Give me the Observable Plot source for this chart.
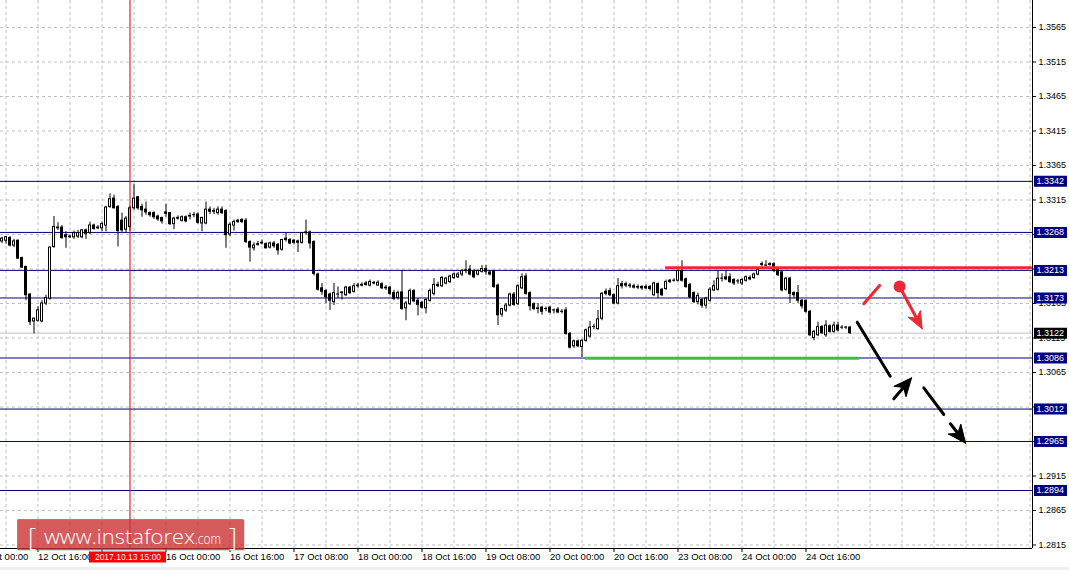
<!DOCTYPE html>
<html>
<head>
<meta charset="utf-8">
<script src="https://cdn.jsdelivr.net/npm/d3@7"></script>
<script src="https://cdn.jsdelivr.net/npm/@observablehq/plot@0.6"></script>
<style>
  html, body { margin: 0; padding: 0; background: #efefef; }
  svg { display: block; }
</style>
</head>
<body>
<script>
// ---------------- DATA ----------------
// hourly bars, bar index counted in trading hours from 12 Oct 00:00
const firstBar = 7;
const opens = [
  1.3255,1.3256,1.3260,1.3249,1.3256,1.3231,1.3218,1.3178,1.3139,1.3140,
  1.3139,1.3165,1.3172,1.3247,1.3275,1.3275,1.3264,1.3262,1.3261,1.3262,
  1.3261,1.3271,1.3267,1.3278,1.3274,1.3274,1.3278,1.3305,1.3317,1.3305,
  1.3285,1.3272,1.3276,1.3303,1.3319,1.3305,1.3301,1.3296,1.3296,1.3291,
  1.3289,1.3295,1.3296,1.3280,1.3289,1.3285,1.3290,1.3291,1.3293,1.3294,
  1.3281,1.3281,1.3298,1.3299,1.3296,1.3301,1.3299,1.3265,1.3278,1.3283,
  1.3283,1.3285,1.3254,1.3245,1.3250,1.3252,1.3251,1.3246,1.3252,1.3250,
  1.3243,1.3257,1.3257,1.3256,1.3255,1.3253,1.3267,1.3268,1.3254,1.3207,
  1.3187,1.3183,1.3178,1.3167,1.3178,1.3180,1.3177,1.3188,1.3182,1.3190,
  1.3191,1.3192,1.3191,1.3195,1.3191,1.3193,1.3188,1.3188,1.3180,1.3173,
  1.3181,1.3158,1.3164,1.3183,1.3169,1.3166,1.3158,1.3169,1.3179,1.3190,
  1.3190,1.3194,1.3196,1.3202,1.3203,1.3207,1.3212,1.3214,1.3211,1.3207,
  1.3211,1.3215,1.3207,1.3211,1.3191,1.3149,1.3155,1.3162,1.3178,1.3164,
  1.3187,1.3204,1.3180,1.3164,1.3158,1.3159,1.3157,1.3159,1.3155,1.3156,
  1.3153,1.3155,1.3121,1.3103,1.3110,1.3102,1.3111,1.3117,1.3131,1.3128,
  1.3143,1.3179,1.3183,1.3177,1.3165,1.3190,1.3193,1.3191,1.3190,1.3188,
  1.3189,1.3187,1.3189,1.3177,1.3193,1.3185,1.3186,1.3196,1.3198,1.3198,
  1.3212,1.3200,1.3192,1.3180,1.3167,1.3170,1.3162,1.3169,1.3184,1.3185,
  1.3201,1.3200,1.3203,1.3199,1.3197,1.3194,1.3198,1.3200,1.3202,1.3207,
  1.3221,1.3220,1.3222,1.3222,1.3213,1.3210,1.3185,1.3201,1.3180,1.3180,
  1.3169,1.3169,1.3153,1.3115,1.3119,1.3131,1.3119,1.3132,1.3124,1.3133,
  1.3130,1.3130,1.3130
];
const highs = [
  1.3261,1.3262,1.3262,1.3258,1.3257,1.3232,1.3219,1.3179,1.3144,1.3160,
  1.3169,1.3177,1.3247,1.3291,1.3282,1.3278,1.3269,1.3264,1.3270,1.3271,
  1.3272,1.3273,1.3283,1.3280,1.3278,1.3283,1.3306,1.3324,1.3322,1.3307,
  1.3296,1.3291,1.3306,1.3338,1.3320,1.3309,1.3312,1.3298,1.3298,1.3293,
  1.3290,1.3309,1.3297,1.3290,1.3292,1.3292,1.3292,1.3296,1.3297,1.3296,
  1.3290,1.3312,1.3305,1.3303,1.3305,1.3305,1.3301,1.3282,1.3286,1.3287,
  1.3288,1.3288,1.3256,1.3253,1.3255,1.3257,1.3253,1.3254,1.3255,1.3252,
  1.3258,1.3267,1.3259,1.3258,1.3257,1.3268,1.3286,1.3270,1.3256,1.3209,
  1.3194,1.3185,1.3180,1.3194,1.3189,1.3182,1.3190,1.3190,1.3194,1.3194,
  1.3195,1.3197,1.3199,1.3197,1.3198,1.3195,1.3191,1.3190,1.3184,1.3183,
  1.3213,1.3168,1.3186,1.3185,1.3172,1.3168,1.3172,1.3186,1.3201,1.3196,
  1.3204,1.3203,1.3206,1.3209,1.3210,1.3214,1.3227,1.3220,1.3214,1.3214,
  1.3220,1.3220,1.3213,1.3213,1.3193,1.3158,1.3165,1.3180,1.3181,1.3192,
  1.3208,1.3208,1.3182,1.3166,1.3165,1.3161,1.3160,1.3161,1.3157,1.3159,
  1.3156,1.3159,1.3123,1.3112,1.3112,1.3113,1.3128,1.3139,1.3135,1.3155,
  1.3181,1.3186,1.3187,1.3179,1.3201,1.3197,1.3196,1.3194,1.3193,1.3192,
  1.3191,1.3192,1.3191,1.3196,1.3195,1.3187,1.3199,1.3200,1.3201,1.3214,
  1.3227,1.3202,1.3194,1.3182,1.3180,1.3172,1.3174,1.3188,1.3198,1.3213,
  1.3208,1.3213,1.3208,1.3201,1.3200,1.3201,1.3205,1.3205,1.3209,1.3216,
  1.3225,1.3227,1.3224,1.3224,1.3215,1.3212,1.3203,1.3203,1.3182,1.3191,
  1.3171,1.3170,1.3155,1.3126,1.3138,1.3133,1.3140,1.3134,1.3138,1.3138,
  1.3133,1.3132,1.3132
];
const lows = [
  1.3252,1.3251,1.3247,1.3246,1.3229,1.3216,1.3169,1.3133,1.3121,1.3138,
  1.3137,1.3162,1.3170,1.3245,1.3271,1.3258,1.3245,1.3259,1.3258,1.3259,
  1.3259,1.3258,1.3265,1.3271,1.3272,1.3269,1.3269,1.3303,1.3302,1.3247,
  1.3268,1.3268,1.3270,1.3300,1.3300,1.3290,1.3293,1.3290,1.3287,1.3284,
  1.3280,1.3290,1.3278,1.3272,1.3286,1.3283,1.3282,1.3286,1.3289,1.3280,
  1.3269,1.3279,1.3294,1.3294,1.3293,1.3294,1.3245,1.3262,1.3270,1.3281,
  1.3281,1.3252,1.3225,1.3241,1.3248,1.3250,1.3244,1.3244,1.3245,1.3235,
  1.3241,1.3254,1.3250,1.3250,1.3239,1.3251,1.3264,1.3244,1.3205,1.3183,
  1.3177,1.3165,1.3155,1.3162,1.3172,1.3170,1.3175,1.3178,1.3180,1.3187,
  1.3189,1.3190,1.3189,1.3192,1.3190,1.3185,1.3184,1.3177,1.3169,1.3170,
  1.3155,1.3140,1.3162,1.3166,1.3147,1.3157,1.3150,1.3167,1.3176,1.3188,
  1.3188,1.3192,1.3194,1.3200,1.3201,1.3204,1.3208,1.3205,1.3201,1.3205,
  1.3209,1.3206,1.3205,1.3187,1.3133,1.3145,1.3152,1.3160,1.3161,1.3162,
  1.3185,1.3177,1.3154,1.3155,1.3150,1.3148,1.3153,1.3150,1.3150,1.3150,
  1.3150,1.3119,1.3099,1.3100,1.3101,1.3087,1.3109,1.3115,1.3127,1.3126,
  1.3140,1.3176,1.3175,1.3163,1.3163,1.3186,1.3188,1.3187,1.3186,1.3185,
  1.3184,1.3185,1.3183,1.3175,1.3172,1.3175,1.3184,1.3194,1.3196,1.3196,
  1.3196,1.3187,1.3172,1.3165,1.3163,1.3158,1.3157,1.3167,1.3182,1.3183,
  1.3196,1.3198,1.3194,1.3191,1.3193,1.3191,1.3196,1.3198,1.3200,1.3205,
  1.3218,1.3218,1.3219,1.3210,1.3204,1.3182,1.3183,1.3165,1.3172,1.3165,
  1.3157,1.3151,1.3117,1.3111,1.3117,1.3120,1.3116,1.3122,1.3122,1.3124,
  1.3127,1.3127,1.3120
];
const closes = [
  1.3259,1.3261,1.3249,1.3255,1.3230,1.3217,1.3177,1.3138,1.3143,1.3155,
  1.3165,1.3173,1.3246,1.3276,1.3274,1.3260,1.3261,1.3261,1.3267,1.3267,
  1.3271,1.3266,1.3278,1.3273,1.3275,1.3280,1.3304,1.3316,1.3303,1.3270,
  1.3271,1.3288,1.3303,1.3317,1.3303,1.3300,1.3297,1.3293,1.3290,1.3287,
  1.3284,1.3297,1.3280,1.3288,1.3288,1.3290,1.3284,1.3292,1.3293,1.3282,
  1.3289,1.3301,1.3301,1.3298,1.3301,1.3296,1.3264,1.3279,1.3283,1.3285,
  1.3286,1.3254,1.3246,1.3249,1.3251,1.3253,1.3245,1.3252,1.3248,1.3242,
  1.3257,1.3259,1.3252,1.3253,1.3253,1.3267,1.3268,1.3252,1.3208,1.3185,
  1.3182,1.3174,1.3169,1.3180,1.3178,1.3181,1.3188,1.3180,1.3190,1.3191,
  1.3192,1.3194,1.3196,1.3194,1.3195,1.3187,1.3187,1.3179,1.3172,1.3180,
  1.3157,1.3165,1.3183,1.3168,1.3163,1.3159,1.3170,1.3183,1.3192,1.3192,
  1.3202,1.3201,1.3204,1.3207,1.3207,1.3212,1.3213,1.3207,1.3203,1.3212,
  1.3215,1.3211,1.3210,1.3189,1.3148,1.3157,1.3162,1.3178,1.3163,1.3190,
  1.3203,1.3179,1.3161,1.3157,1.3157,1.3153,1.3157,1.3152,1.3155,1.3152,
  1.3153,1.3121,1.3101,1.3110,1.3103,1.3111,1.3126,1.3130,1.3131,1.3142,
  1.3179,1.3182,1.3177,1.3165,1.3190,1.3193,1.3191,1.3190,1.3188,1.3189,
  1.3187,1.3189,1.3186,1.3194,1.3180,1.3177,1.3196,1.3198,1.3198,1.3212,
  1.3198,1.3189,1.3174,1.3167,1.3176,1.3162,1.3172,1.3185,1.3190,1.3201,
  1.3201,1.3203,1.3196,1.3194,1.3197,1.3199,1.3203,1.3202,1.3207,1.3214,
  1.3222,1.3220,1.3221,1.3212,1.3206,1.3184,1.3201,1.3179,1.3177,1.3169,
  1.3161,1.3153,1.3119,1.3124,1.3131,1.3122,1.3133,1.3124,1.3133,1.3126,
  1.3130,1.3130,1.3122
];

// axis ticks (the 13 Oct 08:00 label sits under the crosshair time label)
const xTickBars   = [0, 16, 32, 48, 64, 80, 96, 112, 128, 144, 160, 176, 192, 208];
const xTickLabels = ["12 Oct 00:00","12 Oct 16:00","","16 Oct 00:00","16 Oct 16:00",
                     "17 Oct 08:00","18 Oct 00:00","18 Oct 16:00","19 Oct 08:00","20 Oct 00:00",
                     "20 Oct 16:00","23 Oct 08:00","24 Oct 00:00","24 Oct 16:00"];
const yTicks = [1.2815,1.2865,1.2915,1.2965,1.3015,1.3065,1.3115,1.3165,
                1.3215,1.3265,1.3315,1.3365,1.3415,1.3465,1.3515,1.3565];

// horizontal levels and current price
const levelPrices = [1.3342, 1.3268, 1.3213, 1.3173, 1.3086, 1.3012, 1.2965, 1.2894];
const bidPrice = 1.3122;

// crosshair
const crosshairBar = 39;
const crosshairLabel = "2017.10.13 15:00";

// drawn objects (bar index, price)
const resistanceBars = [172.9, 264.6];
const resistancePrice = 1.32167;
const supportBars = [152.9, 221.4];
const supportPrice = 1.30857;
const redStroke   = [[222.45, 1.31646], [226.4, 1.31911]];
const redDot      = [[231.4, 1.31896]];
const redArrow    = [[231.4, 1.31896], [237.05, 1.31283]];
const blackStroke1 = [[220.8, 1.31379], [229.05, 1.30595]];
const blackArrow1  = [[229.95, 1.30269], [234.4, 1.30573]];
const blackStroke2 = [[237.45, 1.30428], [242.45, 1.30041]];
const blackArrow2  = [[244.1, 1.29907], [247.9, 1.29625]];

// ---------------- CHART ----------------
const W = 1069, H = 567, mR = 37, mB = 19;
const plotRight = W - mR, plotBottom = H - mB;
const xDomain = [6.625, 264.625];
const yDomain = [1.2809928, 1.3604130];
const xs = Plot.scale({x: {domain: xDomain, range: [0, plotRight]}});
const ys = Plot.scale({y: {domain: yDomain, range: [plotBottom, 0]}});

const candles = opens.map((o, i) => ({t: firstBar + i, open: o, high: highs[i], low: lows[i], close: closes[i]}));
const bulls = candles.filter(d => d.close - d.open >= 0.0003);
const labelOf = new Map(xTickBars.map((b, i) => [b, xTickLabels[i]]));
const gridBars = d3.range(8, xDomain[1], 8);

const RED = "#eb2834", NAVY = "#000080", GREEN = "#45b94a";

function pts(arr) { return arr.map(([t, p]) => ({t, p})); }
function arrowParts(seg, len, half) {
  const [[t0, p0], [t1, p1]] = seg;
  const x0 = xs.apply(t0), y0 = ys.apply(p0), x1 = xs.apply(t1), y1 = ys.apply(p1);
  const L = Math.hypot(x1 - x0, y1 - y0), ux = (x1 - x0) / L, uy = (y1 - y0) / L;
  const nx = -uy, ny = ux;
  const bx = x1 - ux * len, by = y1 - uy * len;
  const notchX = x1 - ux * len * 0.7, notchY = y1 - uy * len * 0.7;
  const toData = ([x, y]) => ({t: xs.invert(x), p: ys.invert(y)});
  const head = [[x1, y1], [bx + nx * half, by + ny * half], [notchX, notchY], [bx - nx * half, by - ny * half], [x1, y1]].map(toData);
  const shaft = [[x0, y0], [notchX, notchY]].map(toData);
  return {head, shaft};
}
const ra = arrowParts(redArrow, 17, 7);
const ba1 = arrowParts(blackArrow1, 18, 8);
const ba2 = arrowParts(blackArrow2, 18, 8);

const boxX1 = xs.invert(plotRight + 2), boxX2 = xs.invert(plotRight + 35), boxTextX = xs.invert(plotRight + 4);
const xcPix = xs.apply(crosshairBar);
const xLabelY = ys.invert(plotBottom + 8.5);

const chart = Plot.plot({
  width: W, height: H,
  marginLeft: 0, marginRight: mR, marginTop: 0, marginBottom: mB,
  x: {type: "linear", domain: xDomain, label: null},
  y: {type: "linear", domain: yDomain, label: null},
  style: {fontFamily: "'Liberation Sans', Arial, sans-serif", fontSize: "9.5px", background: "white", color: "black"},
  marks: [
    Plot.gridY(yTicks, {stroke: "#c0c0c0", strokeOpacity: 1, strokeDasharray: "3,3"}),
    Plot.gridX(gridBars, {stroke: "#c0c0c0", strokeOpacity: 1, strokeDasharray: "3,3"}),
    Plot.ruleY([bidPrice], {stroke: "#c0c0c0"}),
    Plot.ruleY(levelPrices, {stroke: NAVY}),
    // candles
    Plot.ruleX(candles, {x: "t", y1: "low", y2: "high", stroke: "black"}),
    Plot.rect(candles, {x1: d => d.t - 0.375, x2: d => d.t + 0.375, y1: "open", y2: "close",
                        insetTop: -0.5, insetBottom: -0.5, fill: "black"}),
    Plot.rect(bulls, {x1: d => d.t - 0.125, x2: d => d.t + 0.125, y1: "open", y2: "close",
                      insetTop: 0.5, insetBottom: 0.5, fill: "white"}),
    // crosshair
    Plot.ruleX([crosshairBar], {stroke: "#d80000"}),
    // support / resistance
    Plot.ruleY([supportPrice], {x1: supportBars[0], x2: supportBars[1], stroke: GREEN, strokeWidth: 3}),
    Plot.ruleY([resistancePrice], {x1: resistanceBars[0], x2: resistanceBars[1], stroke: RED, strokeWidth: 3}),
    // drawings
    Plot.line(pts(redStroke), {x: "t", y: "p", stroke: RED, strokeWidth: 3}),
    Plot.dot(pts(redDot), {x: "t", y: "p", r: 6, fill: RED}),
    Plot.line(ra.shaft, {x: "t", y: "p", stroke: RED, strokeWidth: 3}),
    Plot.line(ra.head, {x: "t", y: "p", fill: RED, stroke: RED, strokeWidth: 1}),
    Plot.line(pts(blackStroke1), {x: "t", y: "p", stroke: "black", strokeWidth: 3}),
    Plot.line(ba1.shaft, {x: "t", y: "p", stroke: "black", strokeWidth: 3}),
    Plot.line(ba1.head, {x: "t", y: "p", fill: "black", stroke: "black", strokeWidth: 1}),
    Plot.line(pts(blackStroke2), {x: "t", y: "p", stroke: "black", strokeWidth: 3}),
    Plot.line(ba2.shaft, {x: "t", y: "p", stroke: "black", strokeWidth: 3}),
    Plot.line(ba2.head, {x: "t", y: "p", fill: "black", stroke: "black", strokeWidth: 1}),
    // frame lines
    Plot.ruleX([xDomain[1]], {stroke: "black"}),
    Plot.ruleY([yDomain[0]], {stroke: "black"}),
    // axes
    Plot.axisY(yTicks, {anchor: "right", tickSize: 3, tickPadding: 3, fontSize: 9,
                        tickFormat: d => d.toFixed(4)}),
    Plot.axisX(xTickBars, {anchor: "bottom", tickSize: 4, tickPadding: 1, textAnchor: "start",
                           tickFormat: d => labelOf.get(d)}),
    // price label boxes
    Plot.ruleY(levelPrices, {x1: boxX1, x2: boxX2, stroke: NAVY, strokeWidth: 11}),
    Plot.text(levelPrices, {x: boxTextX, y: d => d, text: d => d.toFixed(4), fill: "white",
                            textAnchor: "start", fontSize: 9}),
    Plot.ruleY([bidPrice], {x1: boxX1, x2: boxX2, stroke: "black", strokeWidth: 11}),
    Plot.text([bidPrice], {x: boxTextX, y: d => d, text: d => d.toFixed(4), fill: "white",
                           textAnchor: "start", fontSize: 9}),
    // crosshair time label
    Plot.ruleY([xLabelY], {x1: xs.invert(xcPix - 40.5), x2: xs.invert(xcPix + 36.5), stroke: "#ff0000", strokeWidth: 11}),
    Plot.text([crosshairLabel], {x: xs.invert(xcPix - 2), y: xLabelY, text: d => d, fill: "white", fontSize: 8.5})
  ]
});
document.body.appendChild(chart);

// watermark
const svg = d3.select(chart);
const wm = svg.append("g")
  .attr("font-family", "'Open Sans', 'Liberation Sans', sans-serif")
  .attr("text-anchor", "start")
  .attr("fill", "white");
wm.append("rect").attr("x", 18).attr("y", 520).attr("width", 227).attr("height", 31)
  .attr("fill", "#9a9a9a").attr("opacity", 0.35);
wm.append("rect").attr("x", 17).attr("y", 519).attr("width", 227).attr("height", 31).attr("rx", 1.5)
  .attr("fill", "rgb(210,30,32)").attr("opacity", 0.68);
wm.append("text").attr("x", 28).attr("y", 546).attr("font-size", 25).attr("font-weight", 300).text("[");
wm.append("text").attr("x", 44).attr("y", 544).attr("font-size", 21).attr("font-weight", 300)
  .attr("textLength", 151).attr("lengthAdjust", "spacingAndGlyphs").text("www.instaforex");
wm.append("text").attr("x", 195).attr("y", 544).attr("font-size", 15).attr("font-weight", 300)
  .attr("textLength", 26).attr("lengthAdjust", "spacingAndGlyphs").text(".com");
wm.append("text").attr("x", 229).attr("y", 546).attr("font-size", 25).attr("font-weight", 300).text("]");
</script>
</body>
</html>
